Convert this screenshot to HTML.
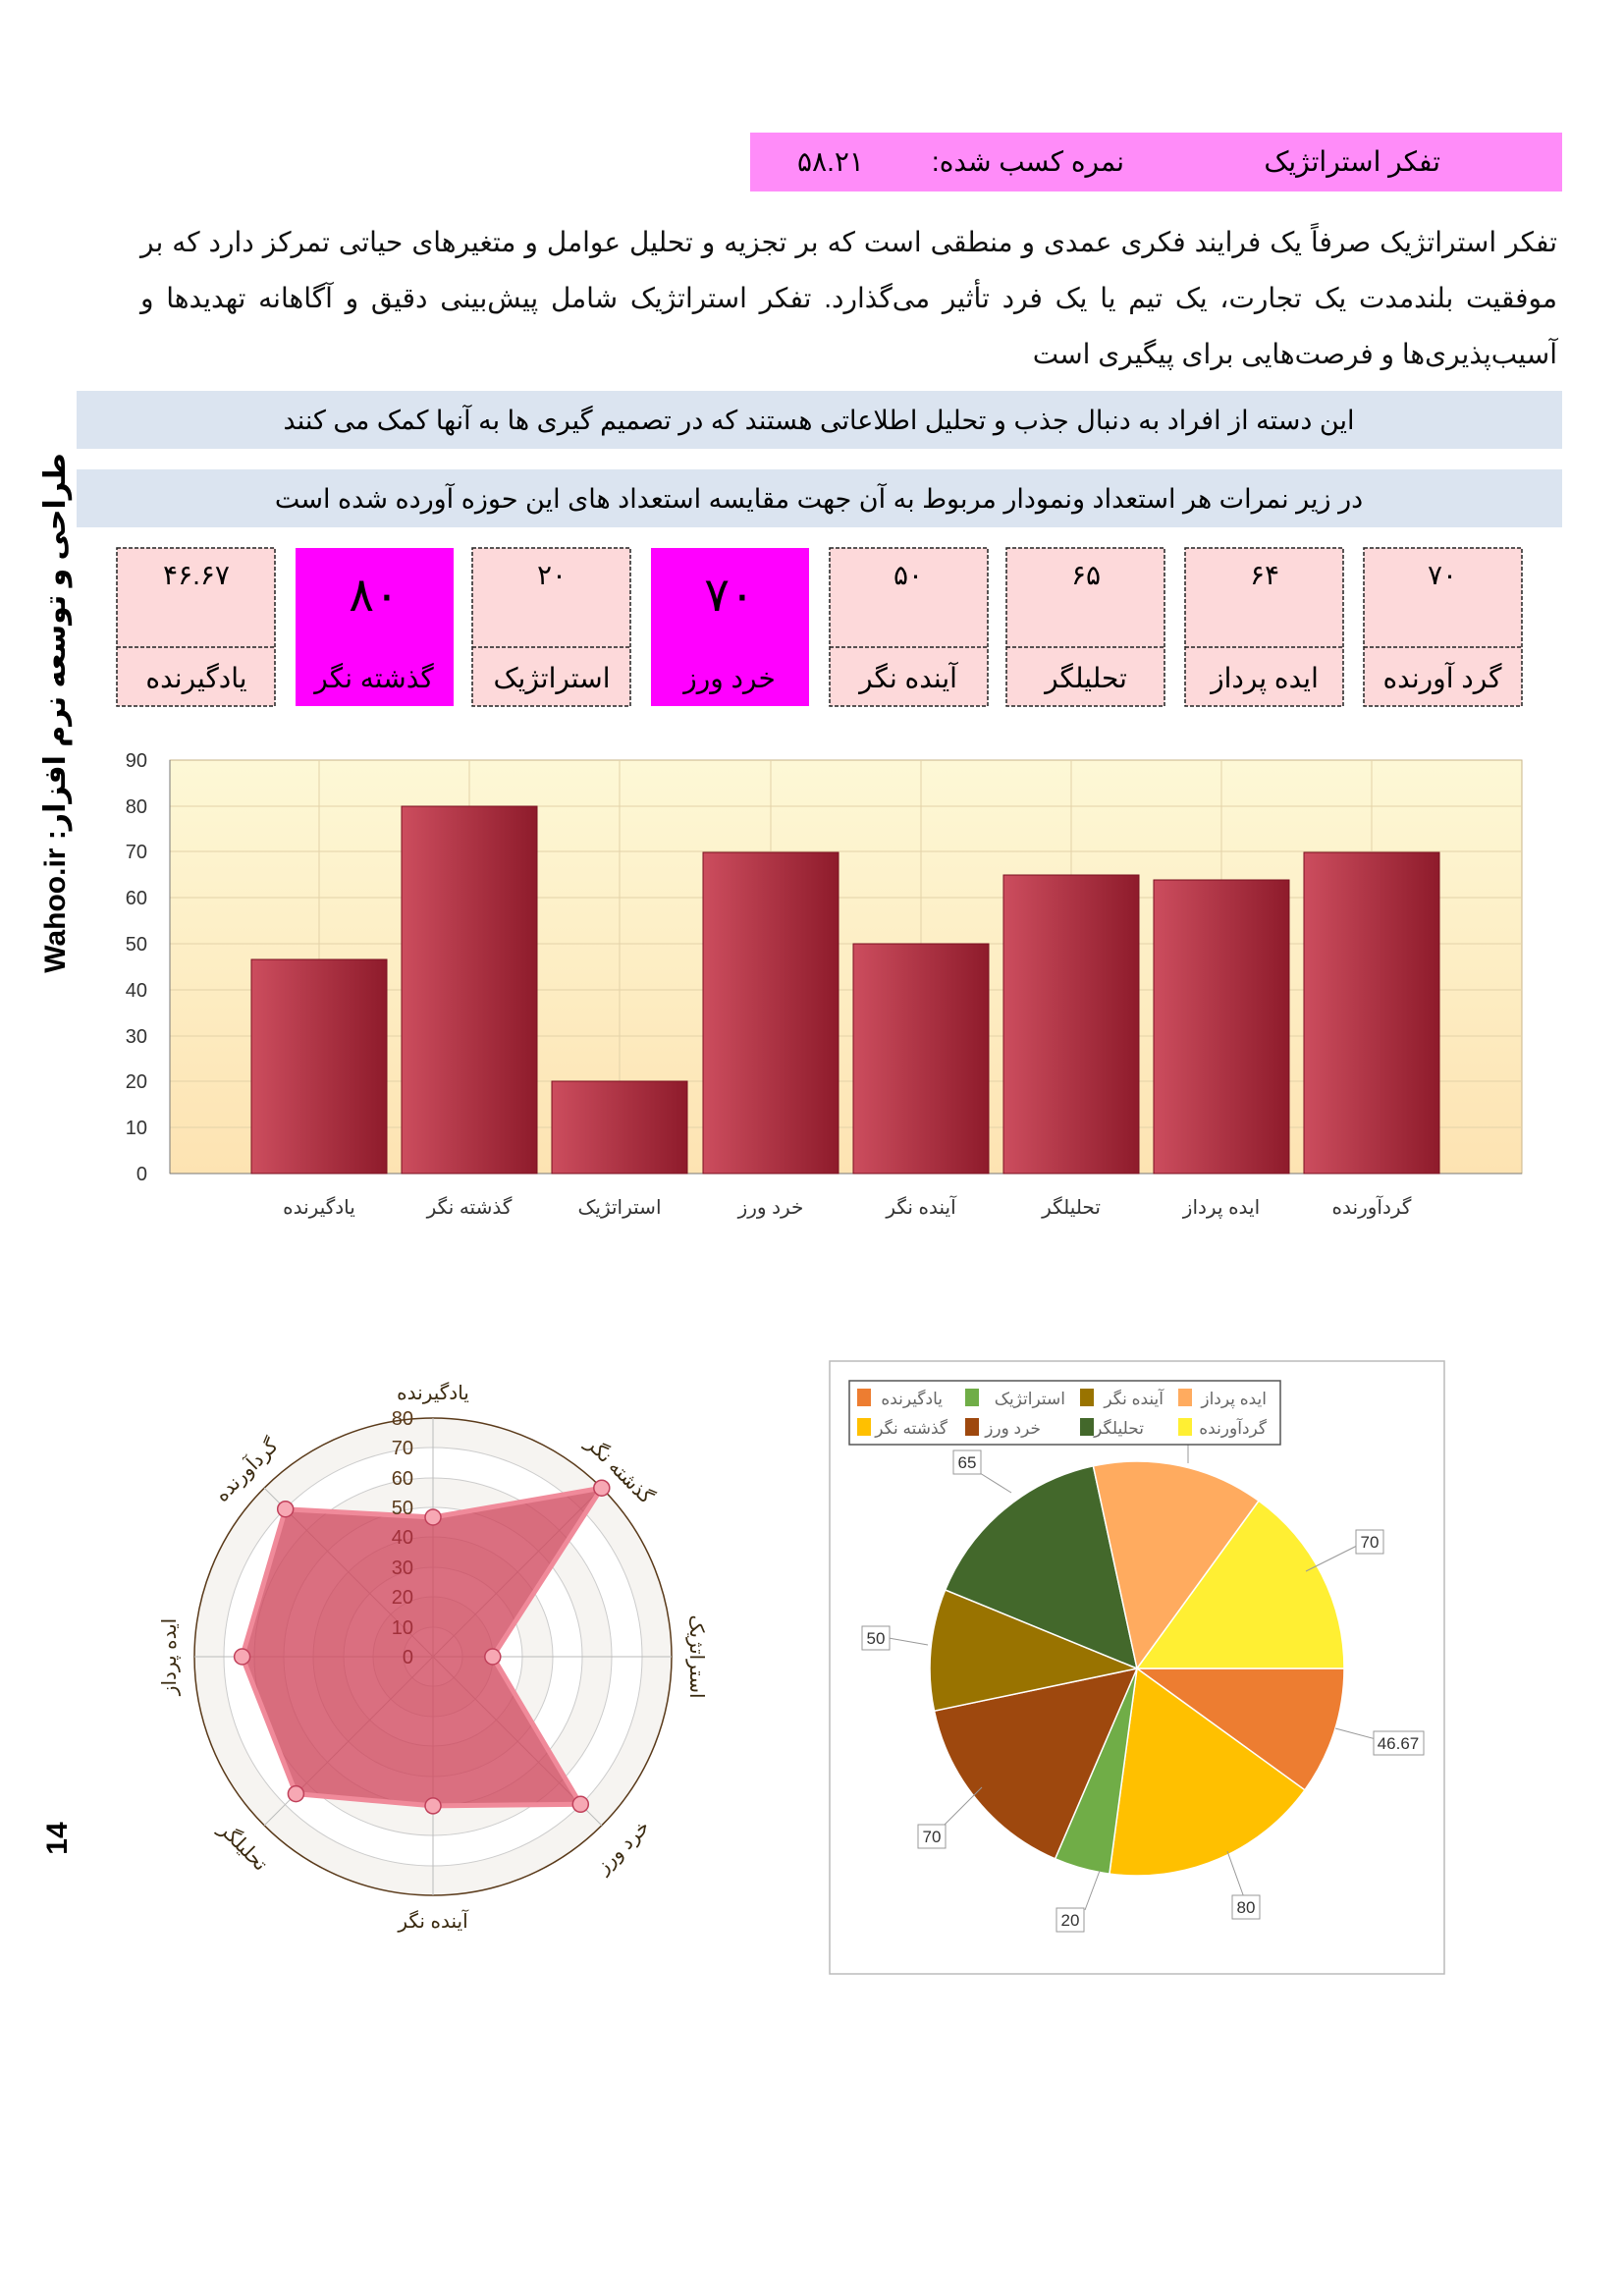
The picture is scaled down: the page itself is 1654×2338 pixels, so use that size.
<!DOCTYPE html>
<html><head><meta charset="utf-8">
<style>
body{margin:0;background:#fff;}
#p{position:relative;width:1654px;height:2338px;overflow:hidden;font-family:"Liberation Sans","DejaVu Sans",sans-serif;}
.par{position:absolute;left:143px;top:218px;width:1443px;direction:rtl;text-align:justify;text-align-last:right;font-size:28px;line-height:57px;color:#111;}
</style></head><body><div id="p">
<svg width="1654" height="2338" style="position:absolute;left:0;top:0" font-family="Liberation Sans, DejaVu Sans, sans-serif">
<defs>
<linearGradient id="bg" x1="0" y1="0" x2="0" y2="1"><stop offset="0" stop-color="#fdf8d6"/><stop offset="1" stop-color="#fde3b2"/></linearGradient>
<linearGradient id="bar" x1="0" y1="0" x2="1" y2="0"><stop offset="0" stop-color="#cc4d5e"/><stop offset="1" stop-color="#8e1b2b"/></linearGradient>
</defs>
<!-- header -->
<rect x="764" y="135" width="827" height="60" fill="#ff8cf9"/>
<text x="1467" y="174" font-size="28" text-anchor="end">تفکر استراتژیک</text>
<text x="1145" y="174" font-size="28" text-anchor="start" direction="rtl">نمره کسب شده:</text>
<text x="846" y="174" font-size="28" text-anchor="middle">۵۸.۲۱</text>
<rect x="78" y="398" width="1513" height="59" fill="#dbe4f0"/>
<text x="834" y="437" font-size="27" text-anchor="middle">این دسته از افراد به دنبال جذب و تحلیل اطلاعاتی هستند که در تصمیم گیری ها به آنها کمک می کنند</text>
<rect x="78" y="478" width="1513" height="59" fill="#dbe4f0"/>
<text x="834" y="517" font-size="27" text-anchor="middle">در زیر نمرات هر استعداد ونمودار مربوط به آن جهت مقایسه استعداد های این حوزه آورده شده است</text>
<!-- side text -->
<text transform="translate(66,726) rotate(-90)" font-size="30" font-weight="bold" text-anchor="middle" direction="rtl">طراحی و توسعه نرم افزار: Wahoo.ir</text>
<text transform="translate(68,1872) rotate(-90)" font-size="30" font-weight="bold" text-anchor="middle">14</text>
<!-- cells -->
<g font-size="28" text-anchor="middle">
<g><rect x="119" y="558" width="161" height="161" fill="#fdd9da" stroke="#222" stroke-dasharray="4,2" stroke-width="1.5"/><line x1="119" y1="659" x2="280" y2="659" stroke="#222" stroke-dasharray="4,2" stroke-width="1.5"/><text x="200" y="595">۴۶.۶۷</text><text x="200" y="700">یادگیرنده</text></g>
<g><rect x="301" y="558" width="161" height="161" fill="#ff00ff"/><text x="381" y="622" font-size="48">۸۰</text><text x="381" y="700">گذشته نگر</text></g>
<g><rect x="481" y="558" width="161" height="161" fill="#fdd9da" stroke="#222" stroke-dasharray="4,2" stroke-width="1.5"/><line x1="481" y1="659" x2="642" y2="659" stroke="#222" stroke-dasharray="4,2" stroke-width="1.5"/><text x="562" y="595">۲۰</text><text x="562" y="700">استراتژیک</text></g>
<g><rect x="663" y="558" width="161" height="161" fill="#ff00ff"/><text x="743" y="622" font-size="48">۷۰</text><text x="743" y="700">خرد ورز</text></g>
<g><rect x="845" y="558" width="161" height="161" fill="#fdd9da" stroke="#222" stroke-dasharray="4,2" stroke-width="1.5"/><line x1="845" y1="659" x2="1006" y2="659" stroke="#222" stroke-dasharray="4,2" stroke-width="1.5"/><text x="925" y="595">۵۰</text><text x="925" y="700">آینده نگر</text></g>
<g><rect x="1025" y="558" width="161" height="161" fill="#fdd9da" stroke="#222" stroke-dasharray="4,2" stroke-width="1.5"/><line x1="1025" y1="659" x2="1186" y2="659" stroke="#222" stroke-dasharray="4,2" stroke-width="1.5"/><text x="1106" y="595">۶۵</text><text x="1106" y="700">تحلیلگر</text></g>
<g><rect x="1207" y="558" width="161" height="161" fill="#fdd9da" stroke="#222" stroke-dasharray="4,2" stroke-width="1.5"/><line x1="1207" y1="659" x2="1368" y2="659" stroke="#222" stroke-dasharray="4,2" stroke-width="1.5"/><text x="1288" y="595">۶۴</text><text x="1288" y="700">ایده پرداز</text></g>
<g><rect x="1389" y="558" width="161" height="161" fill="#fdd9da" stroke="#222" stroke-dasharray="4,2" stroke-width="1.5"/><line x1="1389" y1="659" x2="1550" y2="659" stroke="#222" stroke-dasharray="4,2" stroke-width="1.5"/><text x="1469" y="595">۷۰</text><text x="1469" y="700">گرد آورنده</text></g>
</g>
<!-- bar chart -->
<rect x="173" y="774" width="1377" height="421" fill="url(#bg)" stroke="#c9b48a"/>
<g stroke="#e3d2a8" stroke-width="1">
<line x1="173" y1="1148" x2="1550" y2="1148"/><line x1="173" y1="1101" x2="1550" y2="1101"/><line x1="173" y1="1055" x2="1550" y2="1055"/><line x1="173" y1="1008" x2="1550" y2="1008"/><line x1="173" y1="961" x2="1550" y2="961"/><line x1="173" y1="914" x2="1550" y2="914"/><line x1="173" y1="867" x2="1550" y2="867"/><line x1="173" y1="821" x2="1550" y2="821"/>
<line x1="325" y1="774" x2="325" y2="1195"/><line x1="478" y1="774" x2="478" y2="1195"/><line x1="631" y1="774" x2="631" y2="1195"/><line x1="785" y1="774" x2="785" y2="1195"/><line x1="938" y1="774" x2="938" y2="1195"/><line x1="1091" y1="774" x2="1091" y2="1195"/><line x1="1244" y1="774" x2="1244" y2="1195"/><line x1="1397" y1="774" x2="1397" y2="1195"/>
</g>
<line x1="173" y1="1195" x2="1550" y2="1195" stroke="#777"/><line x1="173" y1="774" x2="173" y2="1195" stroke="#777"/>
<g font-size="20" text-anchor="end" fill="#333">
<text x="150" y="1202">0</text><text x="150" y="1155">10</text><text x="150" y="1108">20</text><text x="150" y="1062">30</text><text x="150" y="1015">40</text><text x="150" y="968">50</text><text x="150" y="921">60</text><text x="150" y="874">70</text><text x="150" y="828">80</text><text x="150" y="781">90</text>
</g>
<g fill="url(#bar)" stroke="#7a1020" stroke-width="1">
<rect x="256" y="977" width="138" height="218"/>
<rect x="409" y="821" width="138" height="374"/>
<rect x="562" y="1101" width="138" height="94"/>
<rect x="716" y="868" width="138" height="327"/>
<rect x="869" y="961" width="138" height="234"/>
<rect x="1022" y="891" width="138" height="304"/>
<rect x="1175" y="896" width="138" height="299"/>
<rect x="1328" y="868" width="138" height="327"/>
</g>
<g font-size="20" text-anchor="middle" fill="#333">
<text x="325" y="1236">یادگیرنده</text><text x="478" y="1236">گذشته نگر</text><text x="631" y="1236">استراتژیک</text><text x="785" y="1236">خرد ورز</text><text x="938" y="1236">آینده نگر</text><text x="1091" y="1236">تحلیلگر</text><text x="1244" y="1236">ایده پرداز</text><text x="1397" y="1236">گردآورنده</text>
</g>
<!-- radar -->
<g transform="translate(441,1687)">
<circle r="243" fill="#f6f4f1" stroke="#5a3a1a" stroke-width="1.5"/>
<circle r="213" fill="#fff" stroke="#ccc"/>
<circle r="182" fill="#f6f4f1" stroke="#ccc"/>
<circle r="152" fill="#fff" stroke="#ccc"/>
<circle r="122" fill="#f6f4f1" stroke="#ccc"/>
<circle r="91" fill="#fff" stroke="#ccc"/>
<circle r="61" fill="#f6f4f1" stroke="#ccc"/>
<circle r="30" fill="#fff" stroke="#ccc"/>
<g stroke="#bbb"><line x1="0" y1="-243" x2="0" y2="243"/><line x1="-243" y1="0" x2="243" y2="0"/><line x1="-172" y1="-172" x2="172" y2="172"/><line x1="-172" y1="172" x2="172" y2="-172"/></g>
<polygon points="0,-142 171.8,-171.8 60.8,0 150.3,150.3 0,151.9 -139.6,139.6 -194.4,0 -150.3,-150.3" fill="#d0475c" fill-opacity="0.78" stroke="#f08a9a" stroke-width="5"/>
<g fill="#f7a8b4" stroke="#c0405a" stroke-width="1.5">
<circle cx="0" cy="-142" r="8"/><circle cx="171.8" cy="-171.8" r="8"/><circle cx="60.8" cy="0" r="8"/><circle cx="150.3" cy="150.3" r="8"/><circle cx="0" cy="151.9" r="8"/><circle cx="-139.6" cy="139.6" r="8"/><circle cx="-194.4" cy="0" r="8"/><circle cx="-150.3" cy="-150.3" r="8"/>
</g>
<g font-size="20" text-anchor="end" fill="#5a3a1a">
<text x="-20" y="7" fill="#a0303a">0</text><text x="-20" y="-23" fill="#a0303a">10</text><text x="-20" y="-54" fill="#a0303a">20</text><text x="-20" y="-84" fill="#a0303a">30</text><text x="-20" y="-115" fill="#a0303a">40</text><text x="-20" y="-145">50</text><text x="-20" y="-175">60</text><text x="-20" y="-206">70</text><text x="-20" y="-236">80</text>
</g>
<g font-size="20" text-anchor="middle" fill="#3a2a10">
<text x="0" y="-262">یادگیرنده</text>
<text transform="rotate(45) translate(0,-262)">گذشته نگر</text>
<text transform="rotate(90) translate(0,-262)">استراتژیک</text>
<text transform="rotate(-45) translate(0,280)">خرد ورز</text>
<text x="0" y="276">آینده نگر</text>
<text transform="rotate(45) translate(0,280)">تحلیلگر</text>
<text transform="rotate(-90) translate(0,-262)">ایده پرداز</text>
<text transform="rotate(-45) translate(0,-262)">گردآورنده</text>
</g>
</g>
<!-- pie -->
<rect x="845" y="1386" width="626" height="624" fill="#fff" stroke="#bbb" stroke-width="1.5"/>
<g transform="translate(1158,1699)" stroke="#fff" stroke-width="1.5">
<path d="M0,0 L211,0 A211,211 0 0,1 170.9,123.8 Z" fill="#ed7d31"/>
<path d="M0,0 L170.9,123.8 A211,211 0 0,1 -28.1,209.1 Z" fill="#ffc000"/>
<path d="M0,0 L-28.1,209.1 A211,211 0 0,1 -83.4,193.8 Z" fill="#70ad47"/>
<path d="M0,0 L-83.4,193.8 A211,211 0 0,1 -206.5,43.2 Z" fill="#9e480e"/>
<path d="M0,0 L-206.5,43.2 A211,211 0 0,1 -195.3,-80.0 Z" fill="#997300"/>
<path d="M0,0 L-195.3,-80.0 A211,211 0 0,1 -44.6,-206.2 Z" fill="#43682b"/>
<path d="M0,0 L-44.6,-206.2 A211,211 0 0,1 124.0,-170.7 Z" fill="#ffab5f"/>
<path d="M0,0 L124.0,-170.7 A211,211 0 0,1 211,0 Z" fill="#ffef33"/>
</g>
<g stroke="#999" fill="none">
<line x1="1360" y1="1760" x2="1420" y2="1776"/><line x1="1250" y1="1885" x2="1268" y2="1935"/><line x1="1120" y1="1905" x2="1105" y2="1945"/><line x1="1000" y1="1820" x2="960" y2="1860"/><line x1="945" y1="1675" x2="905" y2="1668"/><line x1="1030" y1="1520" x2="990" y2="1495"/><line x1="1330" y1="1600" x2="1390" y2="1570"/><line x1="1210" y1="1490" x2="1210" y2="1470"/>
</g>
<g font-size="17" text-anchor="middle" fill="#333">
<rect x="1399" y="1763" width="51" height="24" fill="#fff" stroke="#999"/><text x="1424" y="1781">46.67</text>
<rect x="1255" y="1930" width="28" height="24" fill="#fff" stroke="#999"/><text x="1269" y="1948">80</text>
<rect x="1076" y="1943" width="28" height="24" fill="#fff" stroke="#999"/><text x="1090" y="1961">20</text>
<rect x="935" y="1858" width="28" height="24" fill="#fff" stroke="#999"/><text x="949" y="1876">70</text>
<rect x="878" y="1656" width="28" height="24" fill="#fff" stroke="#999"/><text x="892" y="1674">50</text>
<rect x="971" y="1477" width="28" height="24" fill="#fff" stroke="#999"/><text x="985" y="1495">65</text>
<rect x="1381" y="1558" width="28" height="24" fill="#fff" stroke="#999"/><text x="1395" y="1576">70</text>
</g>
<rect x="865" y="1406" width="439" height="65" fill="#fff" stroke="#555" stroke-width="1.5"/>
<g font-size="17" fill="#666" text-anchor="end">
<rect x="873" y="1414" width="14" height="18" fill="#ed7d31"/><text x="960" y="1430">یادگیرنده</text>
<rect x="983" y="1414" width="14" height="18" fill="#70ad47"/><text x="1085" y="1430">استراتژیک</text>
<rect x="1100" y="1414" width="14" height="18" fill="#997300"/><text x="1185" y="1430">آینده نگر</text>
<rect x="1200" y="1414" width="14" height="18" fill="#ffab5f"/><text x="1290" y="1430">ایده پرداز</text>
<rect x="873" y="1444" width="14" height="18" fill="#ffc000"/><text x="965" y="1460">گذشته نگر</text>
<rect x="983" y="1444" width="14" height="18" fill="#9e480e"/><text x="1060" y="1460">خرد ورز</text>
<rect x="1100" y="1444" width="14" height="18" fill="#43682b"/><text x="1165" y="1460">تحلیلگر</text>
<rect x="1200" y="1444" width="14" height="18" fill="#ffef33"/><text x="1290" y="1460">گردآورنده</text>
</g>
</svg>
<div class="par">تفکر استراتژیک صرفاً یک فرایند فکری عمدی و منطقی است که بر تجزیه و تحلیل عوامل و متغیرهای حیاتی تمرکز دارد که بر موفقیت بلندمدت یک تجارت، یک تیم یا یک فرد تأثیر می‌گذارد. تفکر استراتژیک شامل پیش‌بینی دقیق و آگاهانه تهدیدها و آسیب‌پذیری‌ها و فرصت‌هایی برای پیگیری است</div>
</div></body></html>
